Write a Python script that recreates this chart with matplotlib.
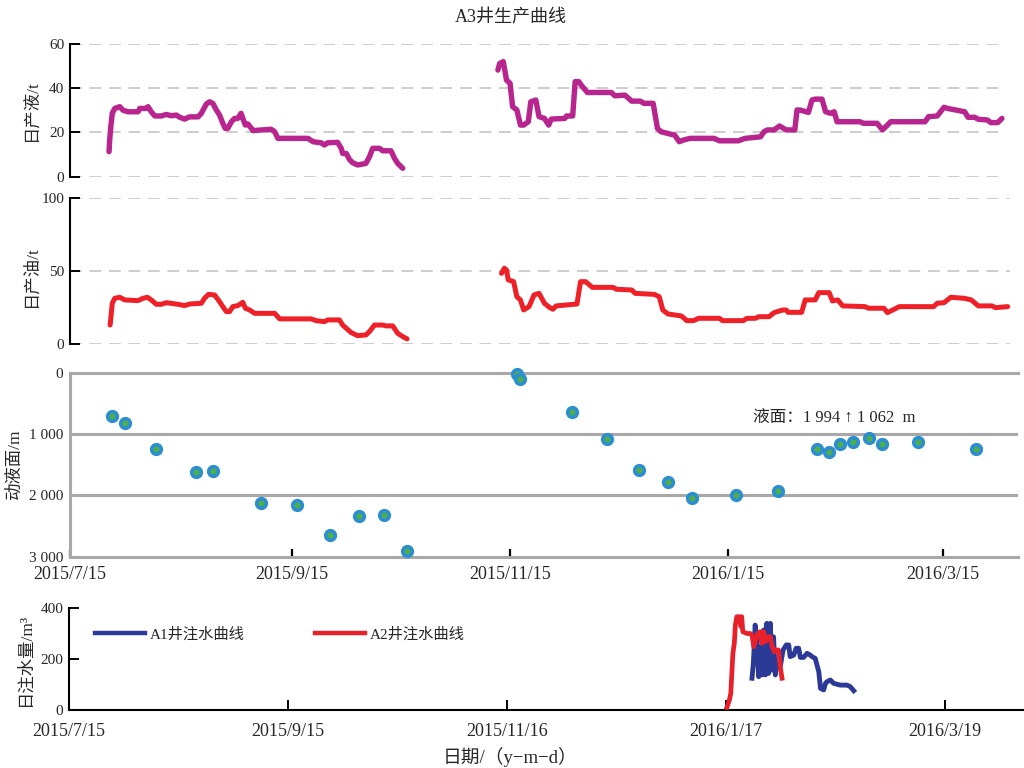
import numpy as np
import matplotlib
matplotlib.use("Agg")
import matplotlib.pyplot as plt
import matplotlib.dates as mdates
from matplotlib.ticker import FuncFormatter
from matplotlib.lines import Line2D

plt.rcParams['font.family'] = ['Liberation Serif', 'Noto Sans CJK SC', 'DejaVu Sans']
plt.rcParams['axes.unicode_minus'] = False

# ---------------- data (day offsets counted from 2015-07-15) ----------------
START = np.datetime64('2015-07-15T00:00')

liquid_day_1 = [10.9, 11.1, 11.4, 11.8, 12.5, 13.9, 14.8, 16.2, 19.0, 19.5, 21.3, 21.8, 22.7,
                23.7, 25.5, 26.9, 28.3, 29.7, 30.7, 32.0, 33.4, 35.8, 36.7, 38.1, 39.0, 39.9,
                40.9, 41.8, 42.7, 43.4, 44.1, 45.1, 46.0, 46.9, 47.8, 48.3, 49.0, 49.7, 50.7,
                51.1, 56.2, 57.2, 58.1, 66.5, 67.9, 70.2, 71.1, 72.0, 74.8, 75.8, 76.2, 77.2,
                78.1, 79.0, 80.4, 82.7, 83.7, 84.6, 86.5, 87.4, 89.7, 90.7, 91.6, 93.0]
liquid_val_1 = [11.3, 17.0, 22.6, 28.6, 30.8, 31.6, 30.0, 29.3, 29.3, 30.8, 30.8, 31.6, 29.3,
                27.4, 27.4, 28.1, 27.5, 27.8, 26.8, 26.0, 27.0, 27.0, 28.6, 32.8, 33.8, 33.1,
                30.1, 27.8, 24.1, 21.8, 21.8, 24.8, 26.3, 26.3, 28.6, 26.3, 23.3, 23.8, 21.8,
                20.8, 21.4, 20.3, 17.3, 17.3, 15.8, 15.3, 14.3, 15.3, 15.5, 12.8, 10.5, 10.5,
                7.8, 6.3, 5.3, 6.0, 9.0, 12.8, 12.8, 11.7, 11.7, 8.3, 6.0, 3.8]

liquid_day_2 = [119.6, 120.1, 121.1, 121.6, 122.0, 123.0, 123.7, 124.9, 125.9, 126.8, 128.1,
                128.8, 130.2, 131.1, 132.6, 133.8, 134.5, 138.3, 138.8, 140.5, 141.2, 142.2,
                143.1, 144.6, 151.3, 152.3, 155.1, 157.0, 159.4, 160.4, 163.0, 164.2, 165.2,
                168.1, 169.0, 170.3, 171.4, 173.3, 180.0, 181.5, 186.8, 188.7, 193.0, 194.0,
                194.9, 196.8, 198.3, 200.2, 202.6, 203.2, 204.0, 206.4, 207.4, 208.3, 210.2,
                211.2, 212.6, 213.6, 214.4, 220.8, 221.8, 225.6, 227.1, 229.4, 239.0, 240.0,
                242.4, 244.3, 245.3, 250.1, 251.0, 252.9, 253.9, 256.4, 257.4, 259.3, 260.5]
liquid_val_2 = [48.1, 51.1, 51.9, 47.4, 43.6, 42.1, 31.6, 30.1, 23.3, 23.3, 24.8,
                33.8, 34.6, 27.1, 26.3, 23.3, 26.0, 26.3, 27.4, 27.4, 42.9, 42.9,
                40.9, 38.0, 38.0, 36.5, 36.8, 34.1, 34.1, 33.1, 33.1, 21.8, 20.3,
                19.1, 18.8, 15.8, 16.5, 17.3, 17.3, 16.2, 16.2, 17.3, 18.0, 20.3,
                21.1, 21.1, 22.9, 21.1, 21.1, 30.1, 30.1, 29.0, 34.6, 35.0, 35.0,
                29.3, 28.6, 29.3, 24.8, 24.8, 24.1, 24.1, 21.1, 24.8, 24.8, 27.1,
                27.4, 31.3, 30.8, 29.3, 26.8, 26.8, 25.9, 25.6, 24.4, 24.4, 26.3]

oil_day_1 = [11.2, 11.4, 11.8, 12.5, 13.9, 15.3, 19.0, 20.4, 21.6, 22.7, 24.1, 25.5, 26.9,
             30.2, 32.0, 33.4, 36.7, 37.6, 38.7, 40.4, 41.8, 42.7, 43.7, 44.6, 45.5, 46.9,
             48.3, 49.0, 50.2, 51.6, 57.2, 58.6, 67.4, 68.8, 71.1, 72.0, 75.3, 76.2, 77.2,
             78.6, 80.4, 82.7, 83.7, 85.1, 87.4, 88.3, 90.2, 91.6, 93.0, 94.2]
oil_val_1 = [13.2, 17.8, 28.1, 31.5, 32.2, 30.4, 29.9, 31.5, 32.2, 30.4, 27.4, 27.4, 28.5,
             27.4, 26.5, 27.6, 28.1, 31.5, 34.2, 33.8, 29.2, 25.8, 22.4, 22.4, 25.8, 26.5,
             28.8, 24.7, 23.5, 21.2, 21.2, 17.4, 17.4, 16.2, 15.5, 16.7, 16.7, 13.2, 11.0,
             8.0, 5.9, 6.4, 8.7, 13.2, 13.2, 12.6, 12.6, 7.5, 5.3, 3.7]

oil_day_2 = [120.6, 121.4, 122.0, 122.5, 124.0, 124.9, 125.9, 126.8, 128.3, 129.7, 131.1,
             132.6, 134.0, 135.0, 135.9, 141.7, 142.7, 144.1, 146.0, 151.8, 152.7, 157.0,
             158.0, 163.3, 164.7, 165.7, 167.1, 170.9, 172.4, 174.3, 175.7, 181.5, 182.4,
             188.2, 189.2, 191.6, 192.5, 195.4, 196.8, 199.2, 200.2, 200.7, 204.5, 205.5,
             208.3, 209.3, 212.2, 213.1, 214.6, 216.0, 222.2, 223.2, 227.5, 228.5, 231.8,
             241.4, 242.4, 244.3, 246.2, 250.0, 251.9, 253.9, 257.7, 258.7, 262.1]
oil_val_2 = [48.6, 52.1, 50.9, 44.1, 42.9, 32.6, 30.4, 23.5, 25.8, 33.8, 34.9,
             28.1, 25.3, 24.0, 26.3, 27.6, 42.9, 42.9, 39.0, 39.0, 37.7, 37.2,
             34.9, 34.2, 32.6, 23.5, 20.8, 19.4, 16.2, 16.2, 17.8, 17.8, 16.2,
             16.2, 17.8, 17.8, 18.9, 18.9, 21.7, 23.5, 23.5, 21.9, 21.9, 30.4,
             30.4, 35.4, 35.4, 29.7, 30.4, 26.3, 25.8, 24.7, 24.7, 21.7, 25.8,
             25.8, 28.1, 28.5, 32.2, 31.5, 30.4, 26.3, 26.3, 25.1, 25.8]

level_day = [11.8, 15.3, 24.1, 35.1, 40.1, 53.3, 63.5, 72.8, 80.9, 87.9, 94.1,
             124.9, 125.9, 140.3, 150.0, 159.0, 167.1, 173.8, 186.1, 197.8,
             208.8, 212.2, 215.1, 218.9, 223.2, 227.0, 236.9, 253.2]
level_depth = [707, 826, 1250, 1614, 1598, 2130, 2158, 2647, 2337, 2321, 2908,
               22, 103, 636, 1082, 1587, 1788, 2049, 1994, 1924,
               1250, 1299, 1168, 1125, 1062, 1168, 1125, 1245]

a1_day = [193.3, 193.7, 194.2, 194.7, 195.2, 195.6, 196.1, 196.6, 197.1, 197.5, 198.0,
          198.5, 198.9, 199.4, 199.9, 200.4, 201.3, 202.1, 203.0, 203.7, 204.1, 205.1,
          205.8, 206.5, 207.0, 207.9, 208.9, 209.8, 210.3, 211.2, 211.7, 212.2, 212.7,
          213.6, 214.1, 214.5, 215.5, 216.4, 218.3, 220.2, 221.1, 222.1]
a1_rate = [125, 184, 334, 263, 131, 249, 138, 315, 138, 341, 144,
           341, 157, 288, 138, 184, 170, 236, 256, 256, 210, 216,
           243, 243, 207, 207, 223, 216, 210, 203, 177, 151, 85,
           79, 105, 111, 118, 105, 98, 98, 92, 76]

a2_day = [186.2, 186.9, 187.3, 187.6, 187.9, 188.3, 188.6, 189.0, 189.8, 190.2, 190.4,
          190.7, 191.9, 192.8, 193.3, 193.8, 194.9, 195.6, 196.1, 196.6, 197.1, 198.0,
          198.5, 198.9, 199.6, 200.2, 200.8, 201.3, 201.8]
a2_rate = [10, 39, 65, 144, 223, 262, 334, 367, 367, 328, 367,
           308, 301, 301, 295, 249, 301, 308, 262, 308, 269, 288,
           288, 256, 229, 236, 236, 170, 125]

prod_ticks = ['2015-07-15', '2015-09-15', '2015-11-15', '2016-01-15', '2016-03-15']
inj_ticks = ['2015-07-15', '2015-09-15', '2015-11-16', '2016-01-17', '2016-03-19']
level_note = '液面：1 994 ↑ 1 062  m'


def to_dates(days):
    return START + np.round(np.asarray(days, dtype=float) * 1440).astype('timedelta64[m]')


def tick_days(labels):
    return [(np.datetime64(t) - np.datetime64('2015-07-15')).astype(int) for t in labels]


def date_text(x, pos=None):
    d = mdates.num2date(x)
    return f"{d.year}/{d.month}/{d.day}"


TXT = '#262626'
GRID_DASH = '#c9c9c9'
LEVEL_GREY = '#a8a8a8'

fig = plt.figure(figsize=(10.24, 7.68), dpi=100)
ax1 = fig.add_axes([0.0684, 0.7699, 0.9258, 0.1732])
ax2 = fig.add_axes([0.0684, 0.5517, 0.9258, 0.1901])
ax3 = fig.add_axes([0.0684, 0.2751, 0.9258, 0.2396])
ax4 = fig.add_axes([0.0674, 0.0755, 0.9316, 0.1324])

top_xlim = to_dates([0, 265])
for ax in (ax1, ax2, ax3):
    ax.set_xlim(top_xlim[0], top_xlim[1])
ax4.set_xlim(*to_dates([0, 270]))

# ---------------- panels 1 & 2: daily liquid / oil ----------------
for ax, yt, ymax, gx in ((ax1, [0, 20, 40, 60], 60, 0.981), (ax2, [0, 50, 100], 100, 0.992)):
    ax.set_ylim(0, ymax)
    for s in ('top', 'right', 'bottom'):
        ax.spines[s].set_visible(False)
    ax.spines['left'].set_color('black')
    ax.spines['left'].set_linewidth(1.5)
    ax.set_yticks(yt)
    ax.tick_params(axis='y', direction='in', length=7, width=1.4, labelsize=11,
                   pad=4, labelcolor=TXT)
    ax.tick_params(axis='x', bottom=False, labelbottom=False)
    for v in yt:
        ax.axhline(v, xmin=0, xmax=gx, color=GRID_DASH, lw=1.3,
                   ls=(0, (6.5, 4.3)), zorder=0)

for d, v in ((liquid_day_1, liquid_val_1), (liquid_day_2, liquid_val_2)):
    ax1.plot(to_dates(d), v, color='#B8258E', lw=3.9, solid_joinstyle='round',
             solid_capstyle='round', clip_on=False, zorder=3)
for d, v in ((oil_day_1, oil_val_1), (oil_day_2, oil_val_2)):
    ax2.plot(to_dates(d), v, color='#EE2128', lw=3.6, solid_joinstyle='round',
             solid_capstyle='round', clip_on=False, zorder=3)

ax1.set_ylabel('日产液/t', fontsize=12.5, color=TXT)
ax1.yaxis.set_label_coords(-0.031, 0.5)
ax2.set_ylabel('日产油/t', fontsize=12.5, color=TXT)
ax2.yaxis.set_label_coords(-0.032, 0.47)

# ---------------- panel 3: dynamic fluid level ----------------
ax3.set_ylim(3000, 0)
ax3.set_yticks([0, 1000, 2000, 3000])
ax3.yaxis.set_major_formatter(FuncFormatter(lambda v, p: f"{int(v):,}".replace(',', ' ')))
ax3.spines['right'].set_visible(False)
for s in ('top', 'bottom', 'left'):
    ax3.spines[s].set_color(LEVEL_GREY)
    ax3.spines[s].set_linewidth(2.2)
for v in (1000, 2000):
    ax3.axhline(v, color=LEVEL_GREY, lw=2.2, zorder=0)
ax3.tick_params(axis='y', length=0, pad=5, labelsize=11, labelcolor=TXT)
ax3.set_xticks(to_dates(tick_days(prod_ticks)))
ax3.xaxis.set_major_formatter(FuncFormatter(date_text))
ax3.tick_params(axis='x', direction='in', length=6, width=1.6, color='black',
                labelsize=13, pad=7, labelcolor=TXT)
ax3.plot(to_dates(level_day), level_depth, ls='none', marker='o', ms=7.0,
         mfc='#4DAE4C', mec='#2B8DD3', mew=2.5, clip_on=False, zorder=4)
ax3.text(to_dates([190.8])[0], 745, level_note, fontsize=12, ha='left',
         va='center', color=TXT)
ax3.set_ylabel('动液面/m', fontsize=12.5, color=TXT)
ax3.yaxis.set_label_coords(-0.050, 0.5)

# ---------------- panel 4: daily water injection ----------------
ax4.set_ylim(0, 400)
ax4.set_yticks([0, 200, 400])
for s in ('top', 'right'):
    ax4.spines[s].set_visible(False)
for s in ('left', 'bottom'):
    ax4.spines[s].set_color('black')
    ax4.spines[s].set_linewidth(1.5)
ax4.tick_params(axis='y', direction='in', length=7, width=1.4, labelsize=11,
                pad=4, labelcolor=TXT)
ax4.set_xticks(to_dates(tick_days(inj_ticks)))
ax4.xaxis.set_major_formatter(FuncFormatter(date_text))
ax4.tick_params(axis='x', direction='in', length=7, width=1.4, labelsize=13,
                pad=9, labelcolor=TXT)
ax4.plot(to_dates(a1_day), a1_rate, color='#2B3A97', lw=3.5, solid_joinstyle='round', zorder=3)
ax4.plot(to_dates(a2_day), a2_rate, color='#E8202A', lw=3.4, solid_joinstyle='round', zorder=4)
handles = [Line2D([], [], color='#2B3A97', lw=3.2), Line2D([], [], color='#E8202A', lw=3.2)]
ax4.legend(handles, ['A1井注水曲线', 'A2井注水曲线'], ncol=2, frameon=False,
           loc='center left', bbox_to_anchor=(0.027, 0.745), borderaxespad=0,
           borderpad=0, handlelength=3.3, handletextpad=0.3, columnspacing=4.6,
           fontsize=11, labelcolor=TXT)
ax4.set_ylabel('日注水量/m³', fontsize=12.5, color=TXT)
ax4.yaxis.set_label_coords(-0.037, 0.5)

fig.text(0.499, 1 - 18 / 768, 'A3井生产曲线', ha='center', va='center', fontsize=13, color=TXT)
fig.text(0.498, 1 - 757 / 768, '日期/（y−m−d）', ha='center', va='center', fontsize=13.5, color=TXT)

fig.savefig('out.png', dpi=100)
